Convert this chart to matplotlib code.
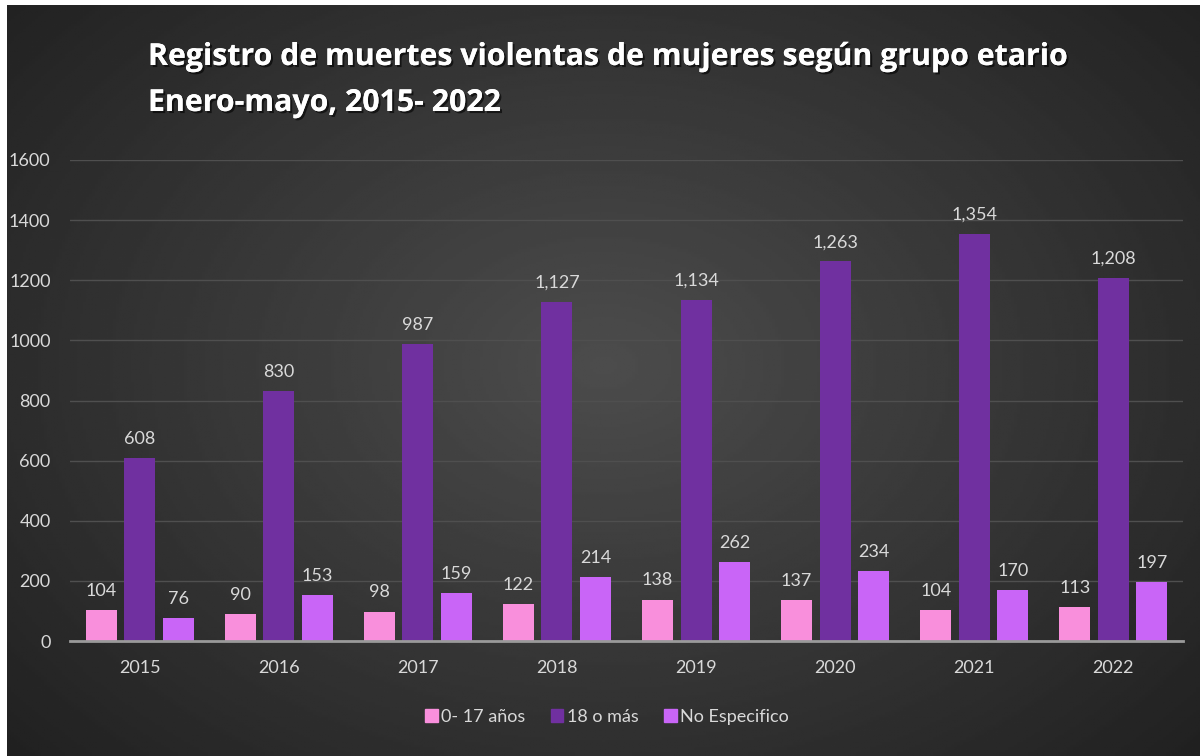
import numpy as np
import matplotlib
matplotlib.use("Agg")
import matplotlib.pyplot as plt
from matplotlib.patches import Patch
import matplotlib.patheffects as pe

plt.rcParams['font.family'] = ['Lato', 'DejaVu Sans']

# datos
years = ["2015", "2016", "2017", "2018", "2019", "2020", "2021", "2022"]
menores = [104, 90, 98, 122, 138, 137, 104, 113]
adultas = [608, 830, 987, 1127, 1134, 1263, 1354, 1208]
no_esp = [76, 153, 159, 214, 262, 234, 170, 197]

labels = ["0- 17 años", "18 o más", "No Especifico"]
colors = ["#F98FDC", "#7030A0", "#C965F7"]
txt = "#D9D9D9"

fig = plt.figure(figsize=(12, 7.56), dpi=100)
fig.patch.set_facecolor("white")

# fondo con degradado radial
bg = fig.add_axes([7 / 1200, 0, 1 - 7 / 1200, 1 - 5 / 756])
yy, xx = np.mgrid[0:1:300j, 0:1:400j]
d = np.sqrt(((xx - 0.5) / 0.75) ** 2 + ((yy - 0.48) / 0.85) ** 2)
v = np.clip(0.30 - 0.19 * d, 0.13, 0.30)
bg.imshow(v, cmap="gray", vmin=0, vmax=1, aspect="auto", extent=[0, 1, 0, 1])
bg.set_axis_off()

ax = fig.add_axes([70 / 1200, 115 / 756, 1113 / 1200, 481 / 756])
ax.set_facecolor("none")

x = np.arange(len(years))
w = 0.223
off = 0.277
series = [menores, adultas, no_esp]
for i, (vals, c, lab) in enumerate(zip(series, colors, labels)):
    bars = ax.bar(x + (i - 1) * off, vals, w, color=c, label=lab, zorder=3)
    for b, val in zip(bars, vals):
        ax.annotate(f"{val:,}", (b.get_x() + b.get_width() / 2, val),
                    xytext=(0, 8), textcoords="offset points",
                    ha="center", va="bottom", color=txt, fontsize=13)

ax.set_xlim(-0.5, len(years) - 0.5)
ax.set_ylim(0, 1600)
ax.set_yticks(range(0, 1601, 200))
ax.set_xticks(x)
ax.set_xticklabels(years)
ax.tick_params(axis="both", length=0, colors=txt, labelsize=13)
ax.tick_params(axis="y", pad=14)
ax.tick_params(axis="x", pad=14)
ax.grid(axis="y", color="#4f4f4f", linewidth=1, zorder=0)
for s in ["top", "right", "left"]:
    ax.spines[s].set_visible(False)
ax.spines["bottom"].set_color("#9a9a9a")
ax.spines["bottom"].set_linewidth(2)
ax.spines["bottom"].set_zorder(4)

handles = [Patch(color=c, label=l) for c, l in zip(colors, labels)]
fig.legend(handles=handles, loc="center", bbox_to_anchor=(607 / 1200, 1 - 717 / 756),
           ncol=3, frameon=False, fontsize=13, labelcolor=txt,
           handlelength=0.7, handleheight=0.7, handletextpad=0.2, columnspacing=1.4)

shadow = [pe.withSimplePatchShadow(offset=(1.5, -1.5), shadow_rgbFace="black", alpha=0.6), pe.Normal()]
for yp, t in [(57, "Registro de muertes violentas de mujeres según grupo etario"),
              (103, "Enero-mayo, 2015- 2022")]:
    fig.text(148 / 1200, 1 - yp / 756, t, family=["Open Sans", "DejaVu Sans"],
             color="white", fontsize=21.8, fontweight="bold", va="center", ha="left", path_effects=shadow)

fig.savefig("out.png", dpi=100)
